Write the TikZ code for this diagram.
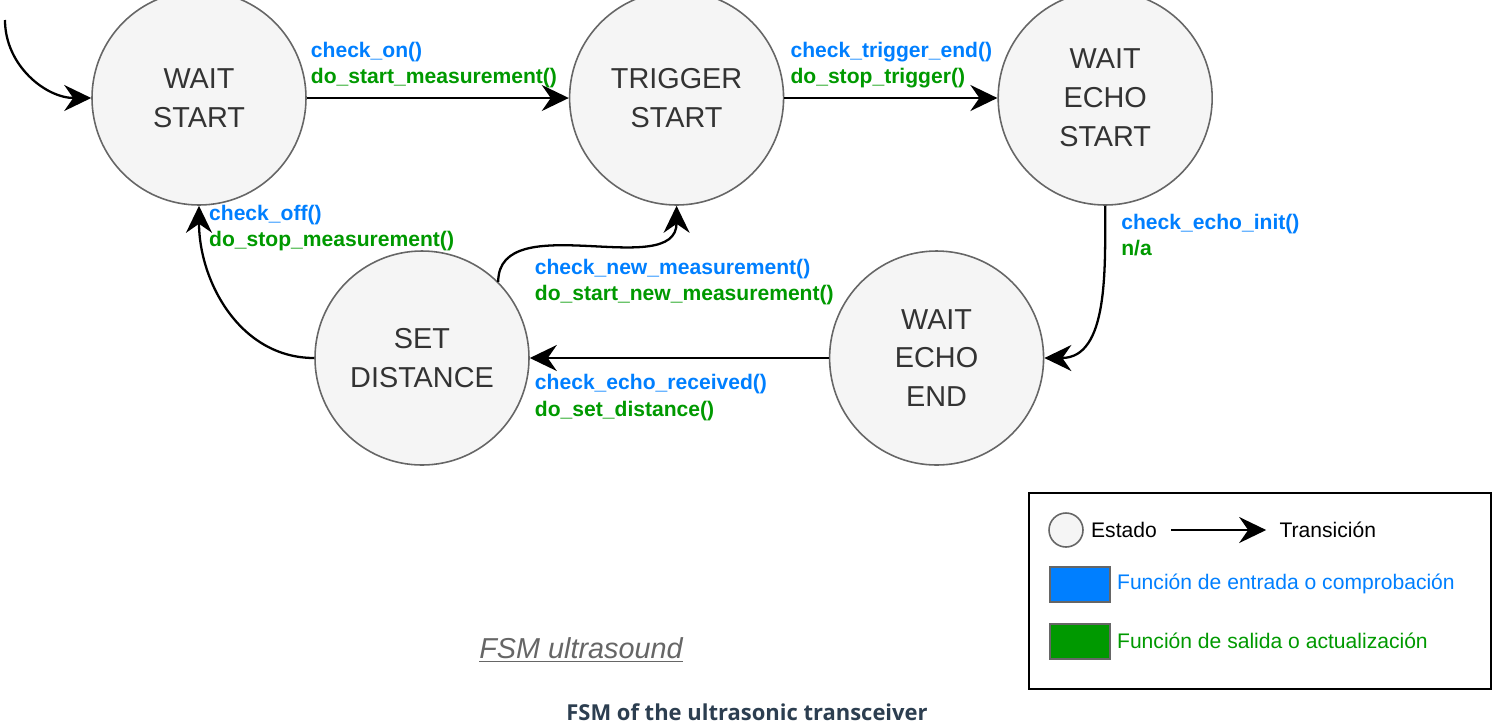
\documentclass[tikz,border=0pt]{standalone}
\usepackage{fontspec}
\setmainfont{Liberation Sans}
\newfontfamily\capfont{Open Sans}
\usetikzlibrary{automata, positioning, arrows.meta}

\definecolor{chk}{HTML}{007FFF}
\definecolor{act}{HTML}{009900}
\definecolor{stfill}{HTML}{F5F5F5}
\definecolor{stline}{HTML}{666666}
\definecolor{sttext}{HTML}{333333}
\definecolor{captxt}{HTML}{2C3E50}

\newcommand{\trans}[2]{\textcolor{chk}{#1}\\\textcolor{act}{#2}}

\tikzset{
  every state/.style={fill=stfill, draw=stline, line width=0.9pt, minimum size=4.28cm,
    text=sttext, align=center, inner sep=0pt, font=\fontsize{16.4}{22.1}\selectfont},
  tr/.style={-{Stealth[length=5.4mm, width=5.2mm, inset=1.8mm]}, line width=1.3pt},
  lbl/.style={align=left, inner sep=0pt, font=\fontsize{12}{14.9}\selectfont\bfseries},
  lgtxt/.style={inner sep=0pt, font=\fontsize{12}{14.7}\selectfont},
  swatch/.style={draw=stline, line width=1pt, minimum width=1.2cm, minimum height=0.7cm, inner sep=0pt},
}

\begin{document}
\begin{tikzpicture}
        \useasboundingbox (0,0) rectangle (30.06,-14.54);

        \node[state] (q1) at (3.98,-1.96) {WAIT\\START};
        \node[state, right=5.24cm of q1] (q2) {TRIGGER\\START};
        \node[state, right=4.26cm of q2] (q3) {WAIT\\ECHO\\START};
        \node[state] (q5) at (8.44,-7.16) {SET\\DISTANCE};
        \node[state, right=5.98cm of q5] (q4) {WAIT\\ECHO\\END};
        \coordinate (q0) at (0.1,-0.4);

        \draw[tr] (q0) to[out=-90, in=180] (q1);
        \draw[tr] (q1) -- node[pos=0, lbl, anchor=south west, xshift=0.06cm, yshift=0.18cm]
                {\trans{check\_on()}{do\_start\_measurement()}} (q2);
        \draw[tr] (q2) -- node[pos=0, lbl, anchor=south west, xshift=0.1cm, yshift=0.18cm]
                {\trans{check\_trigger\_end()}{do\_stop\_trigger()}} (q3);
        \draw[tr] (q3) to[out=-90, in=0] node[pos=0, lbl, anchor=north west, xshift=0.3cm, yshift=-0.14cm]
                {\trans{check\_echo\_init()}{n/a}} (q4);
        \draw[tr] (q4) -- node[pos=1, lbl, anchor=north west, xshift=0.08cm, yshift=-0.31cm]
                {\trans{check\_echo\_received()}{do\_set\_distance()}} (q5);
        \draw[tr] (q5.45) to[out=90, in=-90] node[pos=0, lbl, anchor=north west, xshift=0.71cm, yshift=0.48cm]
                {\trans{check\_new\_measurement()}{do\_start\_new\_measurement()}} (q2);
        \draw[tr] (q5) to[out=180, in=-90] node[pos=1, lbl, anchor=north west, xshift=0.18cm, yshift=0.04cm]
                {\trans{check\_off()}{do\_stop\_measurement()}} (q1);

        % legend
        \node[draw, line width=1.2pt, minimum width=9.24cm, minimum height=3.92cm, inner sep=0pt,
              anchor=north west] (lg) at (20.56,-9.84) {};
        \node[state, minimum size=0.68cm] (lgst) at (21.32,-10.6) {};
        \node[lgtxt, right=0.14cm of lgst] (lgst-t) {Estado};
        \node[lgtxt, right=2.44cm of lgst-t] (lgtr-t) {Transición};
        \draw[tr, shorten <=0.28cm, shorten >=0.26cm] (lgst-t) -- (lgtr-t);
        \node[swatch, fill=chk, anchor=north west] (lgin) at (20.98,-11.32) {};
        \node[lgtxt, text=chk, right=0.12cm of lgin] (lgin-t) {Función de entrada o comprobación};
        \node[swatch, fill=act, below=0.4cm of lgin] (lgout) {};
        \node[lgtxt, text=act, right=0.12cm of lgout] (lgout-t) {Función de salida o actualización};

        \node[text=stline, font=\fontsize{16.4}{20}\selectfont\itshape] (fsm) at (11.62,-13.0) {\underline{FSM ultrasound}};
        \node[text=captxt, font=\capfont\bfseries\fontsize{12.5}{15}\selectfont] (cap) at (14.94,-14.24)
                {FSM of the ultrasonic transceiver};

    \end{tikzpicture}
\end{document}
